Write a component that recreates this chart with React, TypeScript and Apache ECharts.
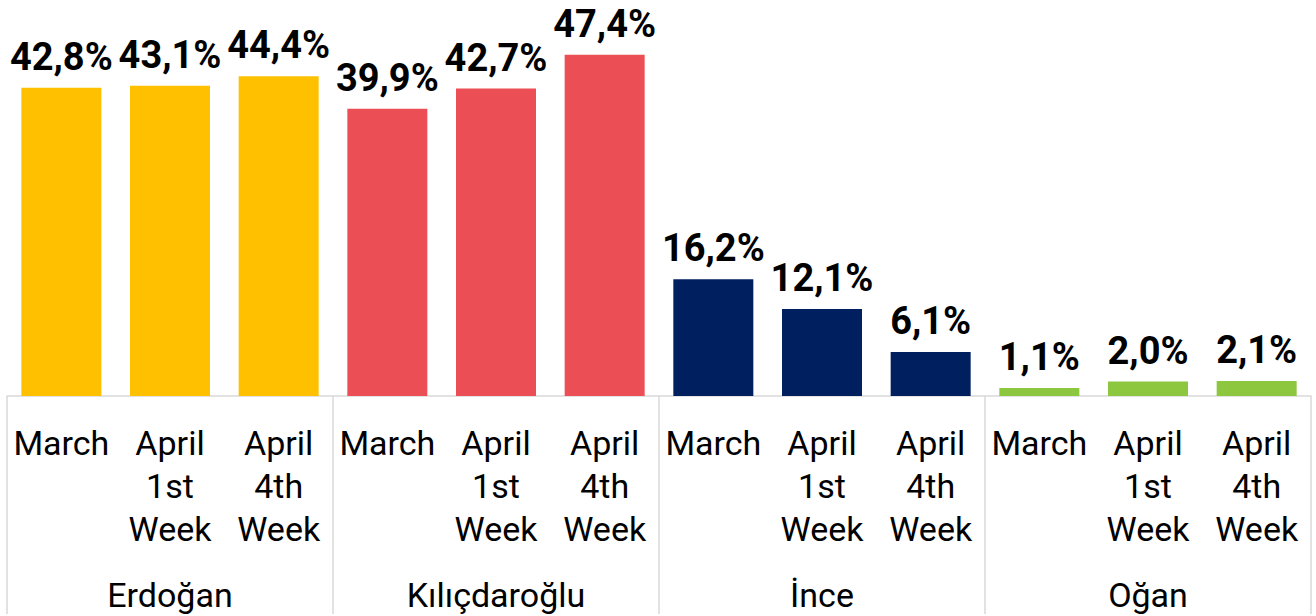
import React, { useEffect, useRef } from "react";
import * as echarts from "echarts";

const candidates = ["Erdoğan", "Kılıçdaroğlu", "İnce", "Oğan"];
const periods = ["March", "April\n1st\nWeek", "April\n4th\nWeek"];
const erdogan = [42.8, 43.1, 44.4];
const kilicdaroglu = [39.9, 42.7, 47.4];
const ince = [16.2, 12.1, 6.1];
const ogan = [1.1, 2.0, 2.1];
const colors = ["#FFC000", "#EB4F55", "#001F5F", "#8DC63F"];

const FONT = "Roboto";

export default function App() {
  const ref = useRef<HTMLDivElement>(null);
  useEffect(() => {
    if (!ref.current) return;
    const chart = echarts.init(ref.current, null, { renderer: "svg" });
    const groups = [erdogan, kilicdaroglu, ince, ogan];
    const cats: string[] = [];
    const data: any[] = [];
    groups.forEach((vals, gi) => {
      vals.forEach((v, pi) => {
        cats.push(periods[pi]);
        data.push({ value: v, itemStyle: { color: colors[gi] } });
      });
    });
    chart.setOption({
      animation: false,
      grid: { left: 7, right: 5, top: 36, bottom: 217 },
      xAxis: [
        {
          type: "category",
          data: cats,
          axisLine: { show: true, lineStyle: { color: "#d9d9d9", width: 1.5 } },
          axisTick: { show: false },
          axisLabel: {
            interval: 0,
            color: "#000",
            fontFamily: FONT,
            fontWeight: "normal",
            fontSize: 34,
            lineHeight: 43,
            margin: 25,
          },
        },
        {
          type: "category",
          data: candidates,
          position: "bottom",
          axisLine: { show: false },
          axisTick: { show: true, length: 218, lineStyle: { color: "#d9d9d9", width: 1.5 } },
          axisLabel: {
            interval: 0,
            color: "#000",
            fontFamily: FONT,
            fontWeight: "normal",
            fontSize: 34,
            lineHeight: 43,
            margin: 177,
          },
        },
      ],
      yAxis: {
        type: "value",
        min: 0,
        max: 50,
        show: false,
        splitLine: { show: false },
      },
      series: [
        {
          type: "bar",
          xAxisIndex: 0,
          barWidth: 80,
          data,
          label: {
            show: true,
            position: "top",
            distance: 12,
            color: "#000",
            fontFamily: FONT,
            fontWeight: "bold",
            fontSize: 38,
            formatter: (p: any) => p.value.toFixed(1).replace(".", ",") + "%",
          },
        },
      ],
    });
    return () => chart.dispose();
  }, []);
  return (
    <div
      ref={ref}
      style={{ position: "absolute", left: 0, top: 0, width: 1316, height: 616 }}
    />
  );
}
